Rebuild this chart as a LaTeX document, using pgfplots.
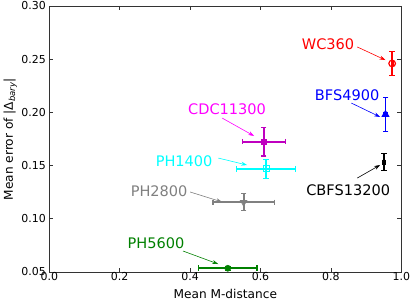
\documentclass[border=0pt]{standalone}
\usepackage{pgfplots}
\pgfplotsset{compat=1.18}
\usepackage{fontspec}
\setmainfont{DejaVu Sans}
\usetikzlibrary{arrows.meta}
\definecolor{mpurple}{rgb}{0.75,0,0.75}
\definecolor{mmag}{rgb}{1,0,1}
\definecolor{mgreen}{rgb}{0,0.5,0}
\definecolor{mgray}{rgb}{0.5,0.5,0.5}
\definecolor{mcyan}{rgb}{0,1,1}
\pgfplotsset{
  vbar/.style={draw=#1, color=#1, line width=1.8bp, mark=-, mark size=2.8bp, mark options={draw=#1, line width=1.1bp, solid}},
  hbar/.style={draw=#1, color=#1, line width=1.8bp, mark=|, mark size=2.8bp, mark options={draw=#1, line width=1.1bp, solid}},
}
\tikzset{ann/.style={-{Stealth[length=6bp,width=4bp]}, line width=0.6bp},
  lab/.style={font=\fontsize{14.6}{16}\selectfont, inner sep=0pt}}
\begin{document}
\begin{tikzpicture}
\begin{axis}[
  scale only axis, width=352bp, height=266bp,
  xmin=0, xmax=1, ymin=0.05, ymax=0.30,
  xtick={0,0.2,0.4,0.6,0.8,1.0},
  ytick={0.05,0.10,0.15,0.20,0.25,0.30},
  xtick pos=both, ytick pos=both, tick align=inside,
  major tick length=4bp, minor tick num=0,
  axis line style={line width=0.8bp, black!80},
  tick style={line width=0.6bp, black!80},
  /pgf/number format/assume math mode=true,
  ticklabel style={font=\fontsize{11}{13}\selectfont},
  xticklabel style={yshift=3bp, /pgf/number format/fixed, /pgf/number format/fixed zerofill, /pgf/number format/precision=1},
  yticklabel style={/pgf/number format/fixed, /pgf/number format/fixed zerofill, /pgf/number format/precision=2},
  scaled ticks=false,
  label style={font=\fontsize{12.2}{14}\selectfont},
  xlabel={Mean M-distance},
  ylabel={Mean error of |Δ\textsubscript{\textit{bary}}|},
  xlabel style={at={(axis description cs:0.5,-0.1015)}, anchor=base},
  ylabel style={at={(axis description cs:-0.111,0.5)}, anchor=center},
  clip=false,
]
% error bars: WC360 (0.974,0.246) +- (0.003,0.011)
\addplot[hbar=red] coordinates {(0.971,0.246) (0.977,0.246)};
\addplot[vbar=red] coordinates {(0.974,0.235) (0.974,0.257)};
% BFS4900 (0.955,0.198) +- (0.005,0.016)
\addplot[hbar=blue] coordinates {(0.950,0.198) (0.960,0.198)};
\addplot[vbar=blue] coordinates {(0.955,0.182) (0.955,0.214)};
% CDC11300 (0.609,0.1725) +- (0.061,0.0135)
\addplot[hbar=mpurple] coordinates {(0.548,0.1725) (0.670,0.1725)};
\addplot[vbar=mpurple] coordinates {(0.609,0.159) (0.609,0.186)};
% PH1400 (0.616,0.147) +- (0.084,0.009)
\addplot[hbar=mcyan] coordinates {(0.532,0.147) (0.700,0.147)};
\addplot[vbar=mcyan] coordinates {(0.616,0.138) (0.616,0.156)};
% PH2800 (0.552,0.1155) +- (0.087,0.008)
\addplot[hbar=mgray] coordinates {(0.465,0.1155) (0.639,0.1155)};
\addplot[vbar=mgray] coordinates {(0.552,0.1075) (0.552,0.1235)};
% PH5600 (0.507,0.0535) +- (0.083,0.002)
\addplot[hbar=mgreen] coordinates {(0.424,0.0535) (0.590,0.0535)};
\addplot[vbar=mgreen] coordinates {(0.507,0.0515) (0.507,0.0555)};
% CBFS13200 (0.950,0.153) +- (0.004,0.008)
\addplot[hbar=black] coordinates {(0.946,0.153) (0.954,0.153)};
\addplot[vbar=black] coordinates {(0.950,0.145) (0.950,0.161)};

% points
\addplot[only marks, red, mark=o, mark size=3.3bp, mark options={line width=1.2bp, fill=red!25}]
  coordinates {(0.974,0.246)};
\addplot[only marks, blue, mark=triangle*, mark size=3.8bp, mark options={line width=1bp}]
  coordinates {(0.955,0.198)};
\addplot[only marks, mpurple, mark=square*, mark size=2.4bp, mark options={line width=0.6bp}]
  coordinates {(0.609,0.1725)};
\addplot[only marks, mcyan, mark=square, mark size=3bp, mark options={line width=1bp}]
  coordinates {(0.616,0.147)};
\addplot[only marks, mgray, mark=triangle, mark size=3.5bp, mark options={rotate=180, line width=1bp}]
  coordinates {(0.552,0.1155)};
\addplot[only marks, mgreen, mark=*, mark size=3bp, mark options={line width=0.6bp}]
  coordinates {(0.507,0.0535)};
\addplot[only marks, black, mark=diamond*, mark size=2.8bp, mark options={xscale=0.5, line width=0.5bp}]
  coordinates {(0.950,0.153)};

% annotations
\node[lab, red] at (axis cs:0.792,0.2643) {WC360};
\draw[ann, red] (axis cs:0.875,0.2615) -- (axis cs:0.955,0.2492);
\node[lab, blue] at (axis cs:0.846,0.2164) {BFS4900};
\draw[ann, blue] (axis cs:0.858,0.2088) -- (axis cs:0.940,0.1957);
\node[lab, mmag] at (axis cs:0.505,0.2032) {CDC11300};
\draw[ann, mmag] (axis cs:0.491,0.1947) -- (axis cs:0.582,0.1778);
\node[lab, mcyan] at (axis cs:0.383,0.1546) {PH1400};
\draw[ann, mcyan] (axis cs:0.480,0.1571) -- (axis cs:0.562,0.1505);
\node[lab, mgray] at (axis cs:0.312,0.1261) {PH2800};
\draw[ann, mgray] (axis cs:0.400,0.1252) -- (axis cs:0.491,0.1158);
\node[lab, mgreen] at (axis cs:0.303,0.0773) {PH5600};
\draw[ann, mgreen] (axis cs:0.380,0.0697) -- (axis cs:0.480,0.0575);
\node[lab, black] at (axis cs:0.849,0.1271) {CBFS13200};
\draw[ann, black] (axis cs:0.875,0.1383) -- (axis cs:0.940,0.1506);
\end{axis}
\pgfresetboundingbox
\path (-49.3bp,-29bp) rectangle (361.7bp,272bp);
\end{tikzpicture}
\end{document}
